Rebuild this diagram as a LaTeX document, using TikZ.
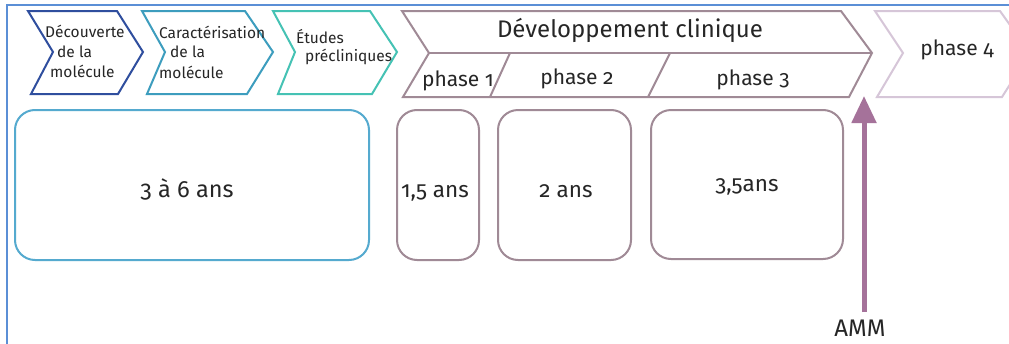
\documentclass[tikz,border=0pt]{standalone}
\usepackage{fontspec}
\setmainfont{Fira Sans}[Numbers=OldStyle]
\usetikzlibrary{arrows.meta}
\definecolor{framec}{HTML}{5B8FD6}
\definecolor{cone}{HTML}{2F4E9E}
\definecolor{ctwo}{HTML}{3D9DBE}
\definecolor{cthree}{HTML}{45C2B4}
\definecolor{cbox}{HTML}{55AACF}
\definecolor{mauve}{HTML}{A08A96}
\definecolor{lmauve}{HTML}{D6C6D8}
\definecolor{arrowc}{HTML}{A5729A}
\definecolor{txt}{HTML}{262626}
\tikzset{
  chev/.style={line width=2pt, line join=miter},
  rbox/.style={draw, line width=2pt, rounded corners=20pt, inner sep=0pt},
  small/.style={anchor=base west, inner sep=0pt, text=txt, font=\fontsize{15.5}{18}\selectfont},
  big/.style={anchor=base, inner sep=0pt, text=txt, font=\fontsize{22.5}{26}\selectfont},
  phasel/.style={anchor=base, inner sep=0pt, text=txt, font=\fontsize{21}{25}\selectfont},
}
\begin{document}
\begin{tikzpicture}[x=1pt,y=-1pt]
\useasboundingbox (0,0) rectangle (1009,343);
\clip (0,0) rectangle (1009,343);
\fill[white] (0,0) rectangle (1009,343);
\draw[framec, line width=2.5pt] (7,350) -- (7,5) -- (1015,5);

% small chevrons
\draw[chev, cone] (28,11) -- (117,11) -- (143,52) -- (118,94) -- (31,94) -- (53,52) -- cycle;
\draw[chev, ctwo] (142,11) -- (245,11) -- (273,52) -- (247,94) -- (147,94) -- (165,52) -- cycle;
\draw[chev, cthree] (273,11) -- (370,11) -- (397,52) -- (372,94) -- (278,94) -- (295,52) -- cycle;

\node[small] (t1a) at (45,37) {Découverte};
\node[small] (t1b) at (57,57) {de la};
\node[small] (t1c) at (50,77) {molécule};
\node[small] (t2a) at (159,38) {Caractérisation};
\node[small] (t2b) at (170,57) {de la};
\node[small] (t2c) at (159,78) {molécule};
\node[small] (t3a) at (296,43) {Études};
\node[small] (t3b) at (305,61) {précliniques};

% big chevron
\draw[chev, mauve] (402,11) -- (841,11) -- (872,53) -- (849,97) -- (403,97) -- (429,53) -- cycle;
\draw[chev, mauve] (429,53) -- (872,53);
\draw[chev, mauve] (510,53) -- (490,97);
\draw[chev, mauve] (670,53) -- (648,97);
\node[big, font=\fontsize{24}{28}\selectfont] (dev) at (630,37) {Développement clinique};
\node[phasel] (p1) at (458,86) {phase 1};
\node[phasel] (p2) at (577,84) {phase 2};
\node[phasel] (p3) at (753,85) {phase 3};

% phase 4
\draw[chev, lmauve] (875,11) -- (1000,11) -- (1030,53) -- (1002,97) -- (877,97) -- (903,53) -- cycle;
\node[phasel] (p4) at (957,55) {phase 4};

% boxes
\node[rbox, cbox, minimum width=354pt, minimum height=150pt] (b1) at (192,185) {};
\node[rbox, mauve, minimum width=82pt, minimum height=150pt] (b2) at (438,185) {};
\node[rbox, mauve, minimum width=133pt, minimum height=150pt] (b3) at (564.5,185) {};
\node[rbox, mauve, minimum width=192pt, minimum height=149pt] (b4) at (747,184.5) {};
\node[big, font=\fontsize{23.5}{27}\selectfont] (l1) at (187,197) {3 à 6 ans};
\node[big] (l2) at (435,197) {1,5 ans};
\node[big] (l3) at (566,197) {2 ans};
\node[big] (l4) at (747,191) {3,5ans};

% AMM arrow
\node[big, font=\fontsize{24}{28}\selectfont] (amm) at (860,336) {AMM};
\coordinate (ammbot) at (864,312);
\coordinate (ammtop) at (864,96);
\draw[arrowc, line width=5pt, -{Triangle[width=24pt,length=27pt]}] (ammbot) -- (ammtop);
\end{tikzpicture}
\end{document}
